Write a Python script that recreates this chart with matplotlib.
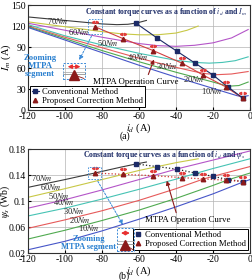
import matplotlib
matplotlib.use("Agg")
import matplotlib.pyplot as plt
from matplotlib.patches import Rectangle
from matplotlib.transforms import ScaledTranslation
from matplotlib.ticker import FormatStrFormatter

plt.rcParams['font.family'] = ['Liberation Serif', 'DejaVu Serif']
plt.rcParams['mathtext.fontset'] = 'stix'
plt.rcParams['axes.unicode_minus'] = False

torques = [70, 60, 50, 40, 30, 20, 10]
curve_colors = ['#3c3c3c', '#c8c846', '#b455c8', '#46c3b4', '#e65a5a', '#50aa50', '#4655c8']

# (a) constant torque curves, i_d vs I_m
id_a = {
    70: [-120, -100, -90, -80, -72, -66, -61, -56],
    60: [-120, -100, -80, -70, -60, -50, -40, -34, -28],
    50: [-120, -100, -80, -60, -50, -40, -30, -20, -10, -1],
    40: [-120, -100, -80, -60, -40, -30, -22, -15, -8, -1],
    30: [-120, -100, -80, -60, -40, -30, -24, -18, -10, -1],
    20: [-120, -100, -80, -60, -40, -30, -20, -12, -6, -1],
    10: [-120, -100, -80, -60, -40, -30, -20, -12, -7, -4, -1],
}
im_a = {
    70: [133, 128, 125.5, 123, 122, 122.5, 124.5, 128],
    60: [126, 119, 112, 109, 107.5, 107.5, 110, 114, 120],
    50: [124, 114, 104, 95, 92, 91, 92.5, 96, 103, 115],
    40: [122, 106, 93, 81, 71, 68, 67, 68, 70.5, 76],
    30: [120, 104, 89, 74, 61, 55, 52, 50.5, 51.5, 55],
    20: [119, 102, 85, 69, 54, 47, 40, 34, 35, 40],
    10: [118, 100, 82, 64, 47, 39, 31, 24.5, 20.5, 19, 20.5],
}
conv_id = [-61.6, -50.3, -39.5, -29.7, -20, -12, -3.8]
conv_im = [124, 103, 84, 67, 50, 33, 17]
prop_id = [-83.8, -68.6, -52.4, -36.8, -25.4, -13, -4]
prop_im = [119, 102, 85, 67, 50, 33, 17]

# (b) constant torque curves, i_d vs psi_s
id_b = {
    70: [-120, -100, -84, -70, -61.6, -56],
    60: [-120, -100, -80, -68.6, -60, -50, -40, -28],
    50: [-120, -100, -80, -60, -52.4, -40, -20, 0],
    40: [-120, -100, -80, -60, -37, -30, -20, 0],
    30: [-120, -100, -80, -60, -40, -25, -20, 0],
    20: [-120, -100, -80, -60, -40, -20, -12, 0],
    10: [-120, -100, -80, -60, -40, -20, -4, 0],
}
psi_b = {
    70: [0.121, 0.133, 0.143, 0.152, 0.157, 0.160],
    60: [0.1057, 0.119, 0.133, 0.141, 0.147, 0.153, 0.159, 0.165],
    50: [0.089, 0.102, 0.117, 0.133, 0.139, 0.149, 0.163, 0.177],
    40: [0.077, 0.089, 0.103, 0.118, 0.136, 0.142, 0.150, 0.165],
    30: [0.058, 0.071, 0.085, 0.101, 0.119, 0.134, 0.138, 0.153],
    20: [0.0415, 0.055, 0.070, 0.086, 0.104, 0.124, 0.1325, 0.143],
    10: [0.025, 0.038, 0.054, 0.072, 0.091, 0.111, 0.129, 0.133],
}
conv_psi = [0.157, 0.153, 0.149, 0.143, 0.138, 0.133, 0.130]
prop_psi = [0.143, 0.141, 0.139, 0.136, 0.134, 0.132, 0.130]

# torque label positions (data coords)
lab_a = {70: (-103.8, 127), 60: (-92.4, 111.4), 50: (-76.8, 95.7), 40: (-60.5, 75.7),
         30: (-44.9, 62.9), 20: (-30.3, 44.3), 10: (-20.5, 27.1)}
lab_b = {70: (-112.7, 0.1354), 60: (-107.8, 0.1215), 50: (-103.5, 0.1077), 40: (-100.8, 0.0985),
         30: (-95.4, 0.0846), 20: (-91.9, 0.0708), 10: (-87.3, 0.0585)}

navy = '#1b2a66'
dred = '#8c1a1a'
blue_txt = '#2a80d0'

fig = plt.figure(figsize=(2.53, 2.80), dpi=100)
ax1 = fig.add_axes([0.1107, 0.607, 0.8775, 0.375])
ax2 = fig.add_axes([0.1107, 0.0964, 0.8775, 0.3714])


def red_marks(ax, xs, ys):
    for dx, m in [(-0.022, '<'), (0.022, '>')]:
        tr = ax.transData + ScaledTranslation(dx, 0.05, fig.dpi_scale_trans)
        ax.plot(xs, ys, m, ms=1.7, color='#e23a3a', mec='#e23a3a', ls='none', transform=tr, zorder=6)


def zoom_inset(ax, x0, x1, y0, y1):
    ax.add_patch(Rectangle((x0, y0), x1 - x0, y1 - y0, fill=False, ec='#3a8ad8',
                           ls=(0, (2, 1.5)), lw=0.7, zorder=7))
    xm = (x0 + x1) / 2
    h = y1 - y0
    w = x1 - x0
    ax.annotate('', xy=(x0 + 0.08 * w, y1 - 0.22 * h), xytext=(x1 - 0.08 * w, y1 - 0.22 * h),
                arrowprops=dict(arrowstyle='<|-|>', color='#e83030', lw=0.9, mutation_scale=6), zorder=8)
    ax.plot([x0, x1], [y0 + 0.32 * h, y0 + 0.32 * h], color='#909090', lw=0.6, zorder=7)
    ax.plot([x0, x1], [y0 + 0.45 * h, y0 + 0.45 * h], color='#b0b0b0', lw=0.6, zorder=7)
    ax.plot([xm], [y0 + 0.27 * h], '^', ms=7, color=dred, zorder=8)
    ax.plot([xm, x1 - 0.05 * w], [y0 + 0.27 * h, y0 + 0.05 * h], color=dred, lw=0.6, zorder=8)


for ax in (ax1, ax2):
    ax.set_xlim(-120, 0)
    ax.set_xticks(range(-120, 1, 20))
    ax.grid(True, color='#b4b4b4', lw=0.5)
    ax.set_axisbelow(True)
    ax.tick_params(labelsize=7, length=2, direction='in', pad=1.5)
    for s in ax.spines.values():
        s.set_linewidth(0.8)
        s.set_color('#303030')

# ---- (a)
for t, c in zip(torques, curve_colors):
    ax1.plot(id_a[t], im_a[t], color=c, lw=0.8)
    x, y = lab_a[t]
    ax1.text(x, y, f'{t}$\\it{{Nm}}$', fontsize=6, ha='center', va='center', color='#202020')
ax1.plot(conv_id, conv_im, '-s', color=navy, lw=0.8, ms=2.7, label='Conventional Method', zorder=5)
ax1.plot(prop_id, prop_im, '-', color='#d04040', lw=0.8, zorder=4)
ax1.plot(prop_id, prop_im, '^', color=dred, ms=3.2, ls='none', label='Proposed Correction Method', zorder=5)
red_marks(ax1, prop_id, prop_im)
ax1.set_ylim(0, 150)
ax1.set_yticks(range(0, 151, 30))
ax1.set_ylabel('$I_m$ (A)', fontsize=7.5)
ax1.yaxis.set_label_coords(-0.068, 0.5)
ax1.set_xlabel('$i_d$ (A)', fontsize=7.5, labelpad=0)
ax1.text(0.255, 0.935, 'Constant torque curves as a function of $i_d$ and $I_m$', transform=ax1.transAxes,
         fontsize=5.6, fontweight='bold', color=navy, ha='left', va='center')
ax1.text(0.293, 0.267, 'MTPA Operation Curve', transform=ax1.transAxes, fontsize=6.4, ha='left', va='center')
ax1.annotate('', xy=(-51.4, 76), xytext=(-55.5, 47),
             arrowprops=dict(arrowstyle='-|>', color=dred, lw=0.8, mutation_scale=6))
ax1.text(0.054, 0.42, 'Zooming\nMTPA\nsegment', transform=ax1.transAxes, fontsize=6.2, fontweight='bold',
         color=blue_txt, ha='center', va='center', linespacing=1.0)
ax1.add_patch(Rectangle((-87.6, 109), 7.6, 21, fill=False, ec='#3a8ad8', ls=(0, (2, 1.5)), lw=0.6, zorder=7))
ax1.annotate('', xy=(-93, 68), xytext=(-85, 109),
             arrowprops=dict(arrowstyle='-|>', color='#3a8ad8', lw=0.7, ls=(0, (2, 1.5)), mutation_scale=6))
zoom_inset(ax1, -101, -89.2, 44, 67)
leg1 = ax1.legend(loc='lower left', bbox_to_anchor=(0.0, 0.01), fontsize=6.2, frameon=True, fancybox=False,
                  edgecolor='black', framealpha=1, borderpad=0.25, handlelength=0.8, handletextpad=0.4,
                  labelspacing=0.1, borderaxespad=0.2)
leg1.get_frame().set_linewidth(0.7)

# ---- (b)
for t, c in zip(torques, curve_colors):
    ax2.plot(id_b[t], psi_b[t], color=c, lw=0.8)
    x, y = lab_b[t]
    ax2.text(x, y, f'{t}$\\it{{Nm}}$', fontsize=6, ha='center', va='center', color='#202020')
ax2.plot(conv_id, conv_psi, ':', color='#202020', lw=0.9, zorder=4)
ax2.plot(conv_id, conv_psi, 's', color=navy, ms=2.7, ls='none', label='Conventional Method', zorder=5)
ax2.plot(prop_id, prop_psi, ':', color='#d03030', lw=0.9, zorder=4)
ax2.plot(prop_id, prop_psi, '^', color=dred, ms=3.2, ls='none', label='Proposed Correction Method', zorder=5)
red_marks(ax2, prop_id, prop_psi)
ax2.set_ylim(0.02, 0.18)
ax2.set_yticks([0.02, 0.06, 0.10, 0.14, 0.18])
ax2.yaxis.set_major_formatter(FormatStrFormatter('%g'))
ax2.set_ylabel('$\\psi_s$ (Wb)', fontsize=7)
ax2.yaxis.set_label_coords(-0.07, 0.5)
ax2.set_xlabel('$i_d$ (A)', fontsize=7.5, labelpad=0)
ax2.text(0.248, 0.942, 'Constant torque curves as a function of $i_d$ and $\\psi_s$', transform=ax2.transAxes,
         fontsize=5.6, fontweight='bold', color=navy, ha='left', va='center')
ax2.text(0.527, 0.317, 'MTPA Operation Curve', transform=ax2.transAxes, fontsize=6.4, ha='left', va='center')
ax2.annotate('', xy=(-45.4, 0.1354), xytext=(-39.5, 0.078),
             arrowprops=dict(arrowstyle='-|>', color=dred, lw=0.8, mutation_scale=6))
ax2.text(0.272, 0.097, 'Zooming\nMTPA segment', transform=ax2.transAxes, fontsize=6.0, fontweight='bold',
         color=blue_txt, ha='center', va='center', linespacing=1.0)
ax2.add_patch(Rectangle((-87.5, 0.134), 7, 0.018, fill=False, ec='#3a8ad8', ls=(0, (2, 1.5)), lw=0.6, zorder=7))
ax2.annotate('', xy=(-68, 0.06), xytext=(-83, 0.134),
             arrowprops=dict(arrowstyle='-|>', color='#3a8ad8', lw=0.7, ls=(0, (2, 1.5)), mutation_scale=6))
zoom_inset(ax2, -72, -62.7, 0.023, 0.0585)
leg2 = ax2.legend(loc='lower right', bbox_to_anchor=(1.0, 0.01), fontsize=6.2, frameon=True, fancybox=False,
                  edgecolor='black', framealpha=1, borderpad=0.25, handlelength=0.8, handletextpad=0.4,
                  labelspacing=0.1, borderaxespad=0.2)
leg2.get_frame().set_linewidth(0.7)

fig.text(125 / 253, 1 - 136 / 280, '(a)', fontsize=7, ha='center', va='center')
fig.text(124 / 253, 1 - 276 / 280, '(b)', fontsize=7, ha='center', va='center')

fig.savefig('out.png', dpi=100)
